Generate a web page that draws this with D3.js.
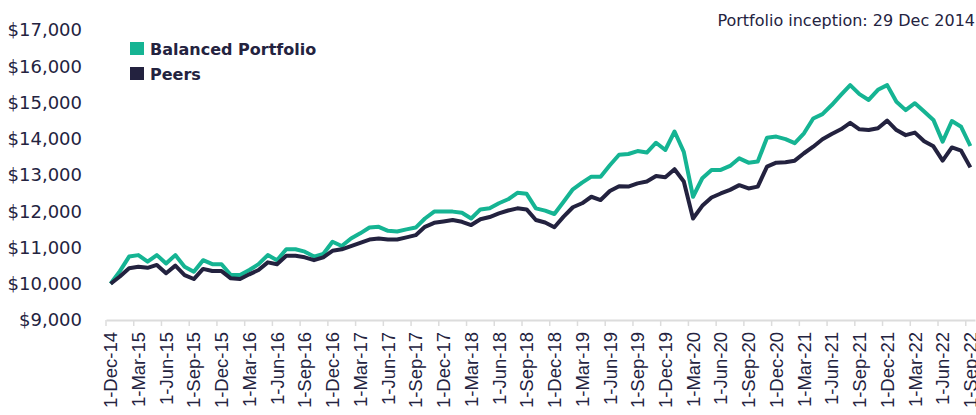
<!DOCTYPE html>
<html>
<head>
<meta charset="utf-8">
<script src="https://cdn.jsdelivr.net/npm/d3@7"></script>
<style>
  body { margin: 0; background: #fff; }
  svg text { fill: #24233f; }
</style>
</head>
<body>
<div id="chart"></div>
<script>
// monthly values, Dec 2014 .. Sep 2022
const startMonth = new Date(2014, 11, 1);
const monthCount = 94;

const balanced = [
  10000, 10350, 10750, 10790, 10610, 10790, 10560, 10790, 10470, 10330,
  10650, 10540, 10540, 10240, 10240, 10380, 10540, 10790, 10650, 10950,
  10950, 10885, 10750, 10820, 11160, 11040, 11250, 11390, 11550, 11570,
  11460, 11440, 11500, 11550, 11800, 11990, 11990, 11990, 11960, 11800,
  12050, 12080, 12220, 12330, 12510, 12480, 12080, 12016, 11924, 12264,
  12605, 12789, 12954, 12954, 13270, 13560, 13580, 13660, 13620, 13890,
  13690, 14200, 13640, 12400, 12910, 13140, 13140, 13250, 13460, 13340,
  13370, 14030, 14060, 13990, 13880, 14150, 14560, 14680, 14930, 15210,
  15480, 15230, 15070, 15350, 15480, 15020, 14790, 14980, 14750, 14520,
  13920, 14490, 14330, 13800
];

const peers = [
  10000, 10200, 10430, 10470, 10440, 10520, 10290, 10500, 10240, 10130,
  10410, 10350, 10350, 10150, 10130, 10260, 10380, 10590, 10540, 10770,
  10770, 10730, 10650, 10730, 10910, 10950, 11040, 11130, 11220, 11250,
  11220, 11220, 11280, 11340, 11570, 11680, 11720, 11760, 11710, 11620,
  11780, 11840, 11940, 12020, 12080, 12050, 11760, 11690, 11560, 11850,
  12110, 12220, 12400, 12310, 12560, 12690, 12680, 12770, 12820, 12970,
  12940, 13160, 12820, 11800, 12150, 12380, 12490, 12590, 12720, 12630,
  12680, 13230, 13340, 13350, 13395, 13600, 13780, 13985, 14130, 14260,
  14440, 14260, 14240, 14290, 14500, 14240, 14100, 14170, 13930, 13790,
  13395, 13760, 13670, 13210
];

const yTicks = [9000, 10000, 11000, 12000, 13000, 14000, 15000, 16000, 17000];
const seriesNames = ["Balanced Portfolio", "Peers"];
const seriesColors = ["#15b493", "#23223f"];
const noteText = "Portfolio inception: 29 Dec 2014";

const months = d3.timeMonth.range(startMonth, d3.timeMonth.offset(startMonth, monthCount));

const width = 976, height = 415;
const svg = d3.select("#chart").append("svg")
    .attr("width", width)
    .attr("height", height);

const x = d3.scaleBand()
    .domain(months)
    .range([106, 975])
    .padding(0);

const y = d3.scaleLinear()
    .domain([9000, 17000])
    .range([320, 30]);

// y labels
svg.append("g")
  .selectAll("text")
  .data(yTicks)
  .join("text")
    .attr("x", 82)
    .attr("y", d => y(d))
    .attr("dy", "0.35em")
    .attr("text-anchor", "end")
    .style("font-family", "DejaVu Sans")
    .style("font-size", "18px")
    .text(d => "$" + d3.format(",")(d));

// x axis
const bw = x.bandwidth();
const xAxis = svg.append("g")
    .attr("transform", "translate(0,320)")
    .call(d3.axisBottom(x)
      .tickValues(months.filter((d, i) => i % 3 === 0))
      .tickSize(6)
      .tickSizeOuter(0)
      .tickFormat(d3.timeFormat("%-d-%b-%y")));

xAxis.select(".domain").attr("stroke", "#dcdcdc").attr("stroke-width", 2);
xAxis.selectAll(".tick line")
    .attr("stroke", "#dcdcdc")
    .attr("stroke-width", 1.5)
    .attr("x1", -bw / 2)
    .attr("x2", -bw / 2);
xAxis.selectAll(".tick text")
    .attr("fill", null)
    .style("font-family", "Liberation Sans")
    .style("font-size", "18.5px")
    .attr("text-anchor", "end")
    .attr("transform", "rotate(-90)")
    .attr("x", -12)
    .attr("y", 0)
    .attr("dy", "0.36em");

// lines
const line = d3.line()
    .x((d, i) => x(months[i]) + bw / 2)
    .y(d => y(d));

[balanced, peers].forEach((s, k) => {
  svg.append("path")
    .datum(s)
    .attr("fill", "none")
    .attr("stroke", seriesColors[k])
    .attr("stroke-width", 4)
    .attr("stroke-linejoin", "round")
    .attr("d", line);
});

// legend
const legend = svg.append("g");
seriesNames.forEach((name, k) => {
  legend.append("rect")
    .attr("x", 130)
    .attr("y", 42 + k * 25)
    .attr("width", 14)
    .attr("height", 13)
    .attr("fill", seriesColors[k]);
  legend.append("text")
    .attr("x", 150)
    .attr("y", 55 + k * 25)
    .style("font-family", "DejaVu Sans")
    .style("font-weight", "bold")
    .style("font-size", "16px")
    .text(name);
});

svg.append("text")
  .attr("x", 975)
  .attr("y", 26)
  .attr("text-anchor", "end")
  .style("font-family", "DejaVu Sans")
  .style("font-size", "16px")
  .text(noteText);
</script>
</body>
</html>
